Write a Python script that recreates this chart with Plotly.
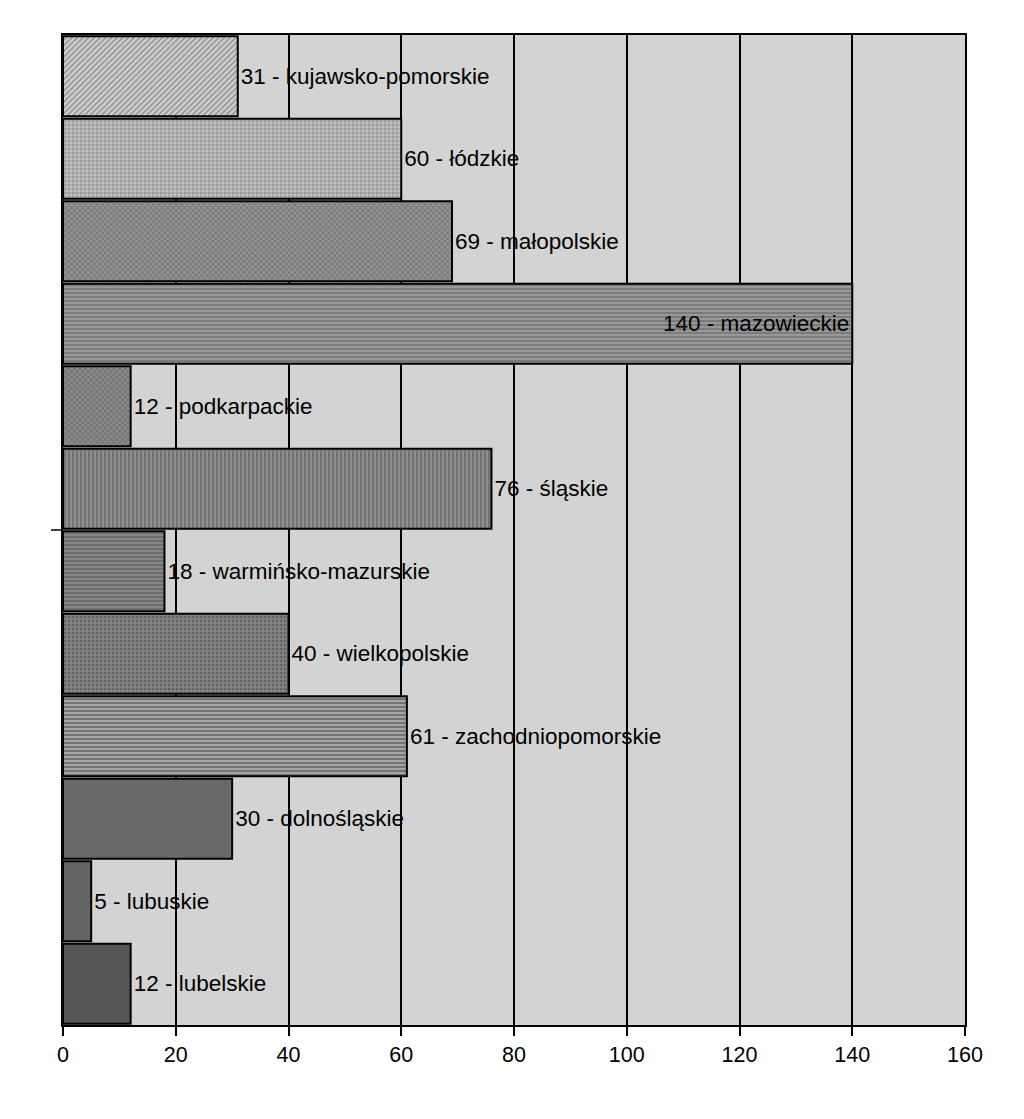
import plotly.graph_objects as go

regions = ["kujawsko-pomorskie", "łódzkie", "małopolskie", "mazowieckie", "podkarpackie",
           "śląskie", "warmińsko-mazurskie", "wielkopolskie", "zachodniopomorskie",
           "dolnośląskie", "lubuskie", "lubelskie"]
counts = [31, 60, 69, 140, 12, 76, 18, 40, 61, 30, 5, 12]
x_ticks = [0, 20, 40, 60, 80, 100, 120, 140, 160]

labels = [f"{v} - {r}" for v, r in zip(counts, regions)]
positions = ["inside" if v == max(counts) else "outside" for v in counts]

shapes_p = ["/", "+", "x", "-", "x", "|", "-", ".", "-", "", "", ""]
bgs = ["#d0d0d0", "#c4c4c4", "#929292", "#989898", "#8a8a8a", "#8e8e8e",
       "#868686", "#808080", "#747474", "#686868", "#646464", "#555555"]
fgs = ["#8a8a8a", "#8c8c8c", "#6a6a6a", "#6a6a6a", "#626262", "#646464",
       "#646464", "#646464", "#606060", "#686868", "#646464", "#555555"]

fig = go.Figure(go.Bar(
    x=counts, y=regions, orientation="h",
    text=labels, textposition=positions,
    insidetextanchor="end",
    textfont=dict(family="Liberation Sans, Arial", size=22.5, color="black"),
    insidetextfont=dict(family="Liberation Sans, Arial", size=22.5, color="black"),
    outsidetextfont=dict(family="Liberation Sans, Arial", size=22.5, color="black"),
    cliponaxis=False,
    constraintext="none",
    marker=dict(
        color=bgs,
        line=dict(color="black", width=2),
        pattern=dict(shape=shapes_p, fgcolor=fgs, bgcolor=bgs, size=4, solidity=0.35),
    ),
))

fig.update_layout(
    width=1024, height=1119,
    margin=dict(l=63, r=59, t=35, b=94),
    paper_bgcolor="white", plot_bgcolor="#d3d3d3",
    bargap=0.03, showlegend=False,
    font=dict(family="Liberation Sans, Arial", size=21, color="black"),
    xaxis=dict(range=[0, 160], tickvals=x_ticks, showgrid=True, gridcolor="black", gridwidth=1.5,
               showline=True, linecolor="black", linewidth=2, mirror=True,
               ticks="outside", ticklen=9, tickwidth=2, tickcolor="black",
               tickfont=dict(size=21.5), zeroline=False),
    yaxis=dict(autorange="reversed", showticklabels=False, ticks="", showgrid=False,
               showline=True, linecolor="black", linewidth=2, mirror=True),
    shapes=[dict(type="line", xref="paper", yref="paper", x0=-12/902, x1=0, y0=0.5, y1=0.5,
                 line=dict(color="black", width=1.5))],
)

fig.write_html("out.html")
